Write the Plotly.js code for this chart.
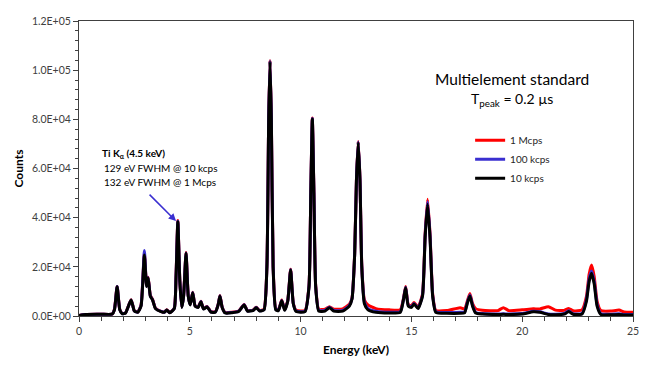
<!DOCTYPE html>
<html>
<head>
<meta charset="utf-8">
<script src="https://cdn.plot.ly/plotly-3.0.1.min.js"></script>
<style>html,body{margin:0;padding:0;background:#fff;}#chart{width:650px;height:369px;}</style>
</head>
<body>
<div id="chart"></div>
<script>
// Energy (keV) sample positions
const energy = [
  0,0.3,1.0,1.5,1.6,1.72,1.84,1.95,2.1,2.35,
  2.5,2.65,2.8,2.95,3.05,3.12,3.22,3.32,3.45,3.7,
  3.85,3.96,4.1,4.3,4.38,4.46,4.55,4.64,4.72,4.83,
  4.93,5.02,5.13,5.24,5.38,5.5,5.62,5.78,5.95,6.15,
  6.28,6.36,6.46,6.6,6.9,7.2,7.45,7.6,7.85,8.0,
  8.15,8.35,8.48,8.56,8.62,8.68,8.76,8.88,9.0,9.15,
  9.28,9.42,9.55,9.67,9.8,10.2,10.38,10.46,10.53,10.6,
  10.68,10.82,11.1,11.3,11.5,11.9,12.2,12.32,12.44,12.52,
  12.6,12.68,12.76,12.88,13.04,13.4,14.0,14.5,14.65,14.74,
  14.86,15.0,15.12,15.3,15.5,15.62,15.73,15.84,15.96,16.1,
  16.6,17.2,17.4,17.52,17.64,17.76,17.9,18.2,18.9,19.15,
  19.4,20.0,20.5,20.8,21.18,21.5,21.9,22.1,22.3,22.7,
  22.9,23.02,23.13,23.25,23.38,23.55,24.0,24.37,24.6,25.0
];

// Counts at 1 Mcps (red)
const counts1Mcps = [
  200,600,700,800,2800,12000,2700,1000,1300,6600,
  2100,1600,4500,25500,12500,15800,8300,6800,3200,1900,
  1600,2500,1400,3200,16500,38800,14500,3700,8300,25800,
  8300,4700,9700,4200,3700,6000,3000,3900,1800,1700,
  4700,8300,3700,1400,1500,2000,4700,2200,2400,3600,
  2200,2800,20500,80500,104000,80500,20500,3000,2600,6500,
  2700,6300,19000,5300,2300,2300,12500,50500,80500,50500,
  12500,2700,2800,3800,2800,2900,4800,7300,25500,55500,
  71000,55500,21000,6500,4500,3000,2500,2600,7500,12000,
  4700,4200,5500,3700,8800,33500,47500,33500,9000,2300,
  2200,3400,2800,6000,9200,5000,3000,2300,2200,3400,
  2200,2500,2900,2900,3800,2400,2300,3100,2100,2500,
  8000,17000,20700,16000,6000,2200,2000,2400,1600,1500
];

// Counts at 100 kcps (blue)
const counts100kcps = [
  200,600,700,800,2600,12000,2600,950,1250,6500,
  2000,1550,4300,26600,12200,15600,8100,6600,3100,1850,
  1550,2450,1350,3100,16200,38500,14200,3600,8100,25600,
  8100,4600,9600,4100,3600,5900,2900,3800,1700,1600,
  4600,8200,3600,1300,1400,1900,4600,2100,2300,3500,
  2100,2600,20200,80200,103800,80200,20200,2700,2400,6300,
  2500,6100,18800,5100,2000,2000,12200,50200,80300,50200,
  12200,2300,2300,3600,2300,2300,4300,7100,25200,55200,
  70800,55200,20500,5600,3000,1900,1500,1800,7200,11700,
  4300,3800,5100,3300,8300,32700,46500,32700,8400,1800,
  1400,1500,1600,5400,8500,4400,1500,1000,800,900,
  800,1000,1900,1700,800,700,1000,2100,900,1000,
  6800,15000,18300,14000,4700,900,700,900,600,600
];

// Counts at 10 kcps (black)
const counts10kcps = [
  200,600,700,800,2500,11900,2500,900,1200,6500,
  2000,1500,4000,24800,12000,15500,8000,6500,3000,1800,
  1500,2400,1300,3000,16000,38300,14000,3500,8000,25500,
  8000,4500,9500,4000,3500,5800,2800,3700,1600,1500,
  4500,8100,3500,1200,1300,1800,4500,2000,2200,3400,
  2000,2500,20000,80000,103500,80000,20000,2500,2200,6200,
  2300,6000,18700,5000,1800,1800,12000,50000,80100,50000,
  12000,2000,2000,3400,2000,2000,4000,6900,25000,55000,
  70500,55000,20000,5000,2500,1500,1200,1500,7000,11500,
  4000,3500,4900,3000,8000,32000,45500,32000,8000,1500,
  1100,1100,1300,5000,8100,4000,1200,800,600,700,
  600,800,1700,1500,600,500,800,1800,700,800,
  6000,14000,17400,13000,4000,600,500,600,400,400
];

const seriesNames = ['1 Mcps','100 kcps','10 kcps'];
const xTickVals = [0,5,10,15,20,25];
const xTickText = ['0','5','10','15','20','25'];
const yTickVals = [0,20000,40000,60000,80000,100000,120000];
const yTickText = ['0.0E+00','2.0E+04','4.0E+04','6.0E+04','8.0E+04','1.0E+05','1.2E+05'];

const FONT = 'Lato, "Liberation Sans", sans-serif';
const lineShape = {shape:'spline', smoothing:0.5};

const traces = [
  {x:energy, y:counts1Mcps, name:seriesNames[0], type:'scatter', mode:'lines',
   line:Object.assign({color:'#ff0000', width:3}, lineShape)},
  {x:energy, y:counts100kcps, name:seriesNames[1], type:'scatter', mode:'lines',
   line:Object.assign({color:'#3a2fd0', width:3}, lineShape)},
  {x:energy, y:counts10kcps, name:seriesNames[2], type:'scatter', mode:'lines',
   line:Object.assign({color:'#000000', width:3}, lineShape)}
];

const layout = {
  width:650, height:369,
  margin:{l:79, r:17, t:21, b:53},
  paper_bgcolor:'#ffffff', plot_bgcolor:'#ffffff',
  font:{family:FONT, size:10, color:'#404040'},
  showlegend:true,
  legend:{x:0.706, y:0.645, xanchor:'left', yanchor:'top', bgcolor:'rgba(0,0,0,0)',
          font:{family:FONT, size:10, color:'#262626'}, itemwidth:30},
  xaxis:{range:[0,25], tickvals:xTickVals, ticktext:xTickText, ticks:'outside', ticklen:5,
         tickcolor:'#404040', showline:true, linecolor:'#404040', linewidth:1, mirror:true,
         showgrid:false, zeroline:false,
         minor:{dtick:1, ticks:'outside', ticklen:4, tickcolor:'#404040', showgrid:false},
         tickfont:{family:FONT, size:10.5, color:'#404040'},
         title:{text:'<b>Energy (keV)</b>', font:{family:FONT, size:12, color:'#000'}, standoff:10}},
  yaxis:{range:[0,120000], tickvals:yTickVals, ticktext:yTickText, ticks:'outside', ticklen:5,
         tickcolor:'#404040', showline:true, linecolor:'#404040', linewidth:1, mirror:true,
         showgrid:false, zeroline:false,
         minor:{dtick:4000, ticks:'outside', ticklen:3, tickcolor:'#404040', showgrid:false},
         tickfont:{family:FONT, size:10.5, color:'#404040'},
         title:{text:'<b>Counts</b>', font:{family:FONT, size:12, color:'#000'}, standoff:5}},
  annotations:[
    {xref:'paper', yref:'paper', x:0.782, y:0.805, xanchor:'center', yanchor:'middle',
     text:'Multielement standard', showarrow:false, font:{family:FONT, size:15.5, color:'#000'}},
    {xref:'paper', yref:'paper', x:0.782, y:0.733, xanchor:'center', yanchor:'middle',
     text:'T<sub>peak</sub> = 0.2 µs', showarrow:false, font:{family:FONT, size:14, color:'#000'}},
    {xref:'paper', yref:'paper', x:0.038, y:0.551, xanchor:'left', yanchor:'middle',
     text:'<b>Ti K<sub>α</sub> (4.5 keV)</b>', showarrow:false, font:{family:FONT, size:10, color:'#000'}},
    {xref:'paper', yref:'paper', x:0.042, y:0.503, xanchor:'left', yanchor:'middle',
     text:'129 eV FWHM @ 10 kcps', showarrow:false, font:{family:FONT, size:10, color:'#000'}},
    {xref:'paper', yref:'paper', x:0.042, y:0.455, xanchor:'left', yanchor:'middle',
     text:'132 eV FWHM @ 1 Mcps', showarrow:false, font:{family:FONT, size:10, color:'#000'}},
    {xref:'x', yref:'y', x:4.38, y:38600, ax:-28, ay:-28, text:'', showarrow:true,
     arrowhead:2, arrowsize:1, arrowwidth:1.5, arrowcolor:'#3a2fd0'}
  ]
};

Plotly.newPlot('chart', traces, layout, {staticPlot:true, displayModeBar:false});
</script>
</body>
</html>
